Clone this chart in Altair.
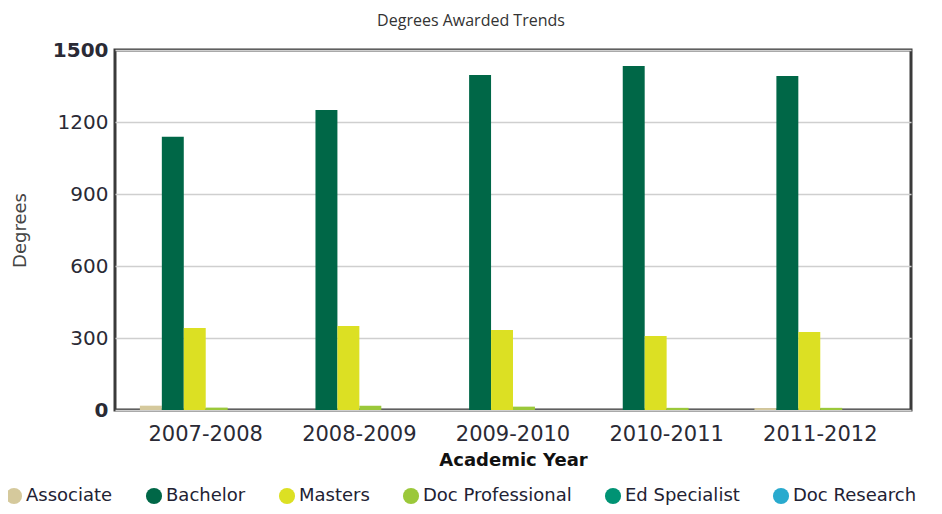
import altair as alt
import pandas as pd

years = ["2007-2008", "2008-2009", "2009-2010", "2010-2011", "2011-2012"]
series = ["Associate", "Bachelor", "Masters", "Doc Professional", "Ed Specialist", "Doc Research"]
colors = ["#D5C99C", "#006747", "#DCE023", "#9BC83A", "#009374", "#29AACE"]

associate = [18, 0, 0, 0, 8]
bachelor = [1139, 1250, 1396, 1433, 1392]
masters = [342, 350, 333, 308, 325]
doc_professional = [10, 18, 14, 9, 9]
ed_specialist = [0, 0, 0, 0, 0]
doc_research = [0, 0, 0, 0, 0]

values = [associate, bachelor, masters, doc_professional, ed_specialist, doc_research]
rows = []
for s, vals in zip(series, values):
    for y, v in zip(years, vals):
        rows.append({"Year": y, "Type": s, "Degrees": v})
df = pd.DataFrame(rows)

chart = alt.Chart(df).mark_bar().encode(
    x=alt.X("Year:N", sort=years,
            scale=alt.Scale(paddingInner=0.143, paddingOuter=0.162),
            axis=alt.Axis(title="Academic Year", labelAngle=0, ticks=False, domain=False,
                          labelFont="DejaVu Sans", labelFontSize=21, labelColor="#2a2a35",
                          labelPadding=13,
                          titleFont="DejaVu Sans", titleFontSize=18, titleFontWeight="bold",
                          titleColor="#111111", titleY=50, titleBaseline="middle")),
    xOffset=alt.XOffset("Type:N", sort=series, scale=alt.Scale(paddingInner=0, paddingOuter=0)),
    y=alt.Y("Degrees:Q", scale=alt.Scale(domain=[0, 1500], nice=False),
            axis=alt.Axis(title="Degrees", values=[0, 300, 600, 900, 1200, 1500], format="d",
                          ticks=False, domain=False, grid=True, gridColor="#cfcfcf",
                          gridWidth=1.5, labelFont="DejaVu Sans", labelFontSize=20,
                          labelColor="#2a2a35", labelPadding=7,
                          labelFontWeight=alt.expr("datum.value == 1500 || datum.value == 0 ? 'bold' : 'normal'"),
                          titleFont="DejaVu Sans", titleFontSize=18, titleFontWeight="normal",
                          titleColor="#444444", titleX=-95, titleY=180, titleAngle=-90,
                          titleBaseline="middle")),
    color=alt.Color("Type:N", sort=series,
                    scale=alt.Scale(domain=series, range=colors),
                    legend=alt.Legend(title=None, orient="none", legendX=-110, legendY=437,
                                      direction="horizontal", columns=6, symbolType="circle",
                                      symbolSize=260, symbolStrokeWidth=0, labelOffset=3,
                                      columnPadding=32, labelFont="DejaVu Sans",
                                      labelFontSize=18, labelColor="#222233",
                                      symbolOpacity=1)),
).properties(
    width=796,
    height=360,
    autosize=alt.AutoSizeParams(type="none"),
    padding={"left": 107, "top": 42, "right": 23, "bottom": 96},
    title=alt.TitleParams("Degrees Awarded Trends", font="Open Sans", fontSize=16,
                          fontWeight="normal", color="#333333", anchor="middle",
                          frame="group", offset=11, dx=-42),
).configure_view(
    stroke="#3a3a3a", strokeWidth=3
)

chart.save("out.html", embed_options={"renderer": "svg", "actions": False})
